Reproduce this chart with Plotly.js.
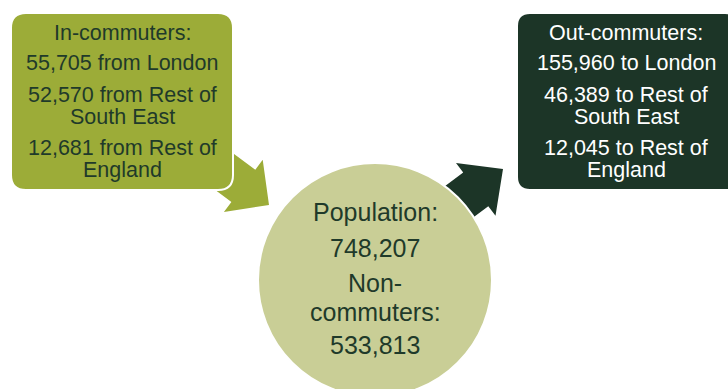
<!DOCTYPE html>
<html>
<head>
<meta charset="utf-8">
<script src="https://cdn.plot.ly/plotly-3.0.1.min.js"></script>
<style>html,body{margin:0;padding:0;background:#fff;}#chart{width:728px;height:389px;}</style>
</head>
<body>
<div id="chart"></div>
<script>
// ---- Data ----
const inTitle = "In-commuters:";
const inFlows = [55705, 52570, 12681];
const inPlaces = [["London"], ["Rest of", "South East"], ["Rest of", "England"]];
const outTitle = "Out-commuters:";
const outFlows = [155960, 46389, 12045];
const outPlaces = [["London"], ["Rest of", "South East"], ["Rest of", "England"]];
const populationLabel = "Population:";
const population = 748207;
const nonCommuterLabel = ["Non-", "commuters:"];
const nonCommuters = 533813;

// ---- Styles ----
const OLIVE = "#9cac38";
const DARK = "#1c3527";
const PALE = "#c9ce96";
const TEXT_DARK = "#1f3a2a";
const FONT = "Liberation Sans, Arial, sans-serif";

const fmt = v => v.toLocaleString("en-GB");

function roundRect(x0, y0, x1, y1, r) {
  return `M${x0+r},${y0} L${x1-r},${y0} Q${x1},${y0} ${x1},${y0+r} L${x1},${y1-r} Q${x1},${y1} ${x1-r},${y1} L${x0+r},${y1} Q${x0},${y1} ${x0},${y1-r} L${x0},${y0+r} Q${x0},${y0} ${x0+r},${y0} Z`;
}
function arrow(tail, tip, ws, wh, hl) {
  const dx = tip[0]-tail[0], dy = tip[1]-tail[1];
  const L = Math.hypot(dx, dy);
  const d = [dx/L, dy/L], n = [-d[1], d[0]];
  const B = [tip[0]-d[0]*hl, tip[1]-d[1]*hl];
  const p = (b, s) => [b[0]+n[0]*s, b[1]+n[1]*s];
  const pts = [p(tail, ws/2), p(B, ws/2), p(B, wh/2), tip, p(B, -wh/2), p(B, -ws/2), p(tail, -ws/2)];
  return "M" + pts.map(q => q[0].toFixed(1)+","+q[1].toFixed(1)).join(" L") + " Z";
}

const shapes = [
  {type: "path", path: arrow([179,138], [269,205], 40, 65, 32), fillcolor: OLIVE, line: {width: 0}},
  {type: "path", path: arrow([428,225], [503,169], 42, 66, 34), fillcolor: DARK, line: {width: 0}},
  {type: "path", path: roundRect(11, 13, 233, 190, 15), fillcolor: OLIVE, line: {color: "#ffffff", width: 2}},
  {type: "path", path: roundRect(517, 13, 738, 190, 13), fillcolor: DARK, line: {color: "#ffffff", width: 2}},
  {type: "circle", x0: 258, x1: 492, y0: 163, y1: 397, fillcolor: PALE, line: {color: "#ffffff", width: 2}}
];

const annotations = [];
function addLine(text, x, y, size, color) {
  annotations.push({x: x, y: y, xref: "x", yref: "y", text: text, showarrow: false,
    xanchor: "center", yanchor: "middle", font: {family: FONT, size: size, color: color}});
}
function addBlock(title, flows, word, places, cx, color) {
  const ys = [[63], [95, 117], [148, 170]];
  addLine(title, cx, 33, 21.5, color);
  flows.forEach((v, i) => {
    const lines = places[i].slice();
    lines[0] = fmt(v) + " " + word + " " + lines[0];
    lines.forEach((t, j) => addLine(t, cx, ys[i][j], 21.5, color));
  });
}
addBlock(inTitle, inFlows, "from", inPlaces, 122, TEXT_DARK);
addBlock(outTitle, outFlows, "to", outPlaces, 626, "#ffffff");
addLine(populationLabel, 375, 212, 25, TEXT_DARK);
addLine(fmt(population), 375, 248, 25, TEXT_DARK);
addLine(nonCommuterLabel[0], 375, 283, 25, TEXT_DARK);
addLine(nonCommuterLabel[1], 375, 312, 25, TEXT_DARK);
addLine(fmt(nonCommuters), 375, 345, 25, TEXT_DARK);

const layout = {
  width: 728, height: 389,
  margin: {l: 0, r: 0, t: 0, b: 0},
  paper_bgcolor: "#ffffff", plot_bgcolor: "#ffffff",
  xaxis: {range: [0, 728], visible: false, fixedrange: true},
  yaxis: {range: [389, 0], visible: false, fixedrange: true},
  showlegend: false,
  shapes: shapes,
  annotations: annotations
};
Plotly.newPlot("chart", [{x: [], y: [], type: "scatter"}], layout, {displayModeBar: false, staticPlot: true});
</script>
</body>
</html>
